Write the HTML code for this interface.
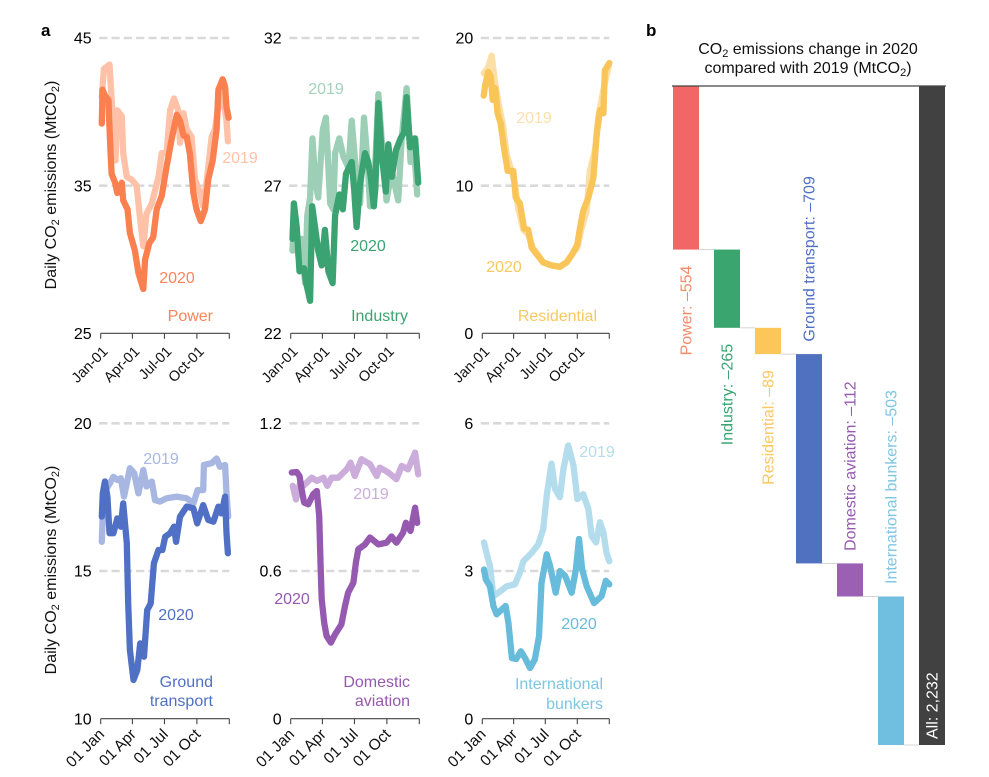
<!DOCTYPE html>
<html lang="en">
<head>
<meta charset="utf-8">
<title>CO2 emissions change in 2020 compared with 2019</title>
<style>
html,body{margin:0;padding:0;background:#fff}
svg{display:block;font-family:"Liberation Sans",sans-serif}
text{font-size:16px}
.sub{font-size:11px}
</style>
</head>
<body>
<svg id="figure" xmlns="http://www.w3.org/2000/svg" width="989" height="777" viewBox="0 0 989 777">
  <rect width="989" height="777" fill="#fff"/>
  <text x="41" y="36" font-weight="bold" style="font-size:17px" fill="#000">a</text>
  <text x="646" y="36" font-weight="bold" style="font-size:17px" fill="#000">b</text>

  <text transform="translate(56 185) rotate(-90)" text-anchor="middle" fill="#111">Daily CO<tspan class="sub" dy="3">2</tspan><tspan dy="-3"> emissions (MtCO</tspan><tspan class="sub" dy="3">2</tspan><tspan dy="-3">)</tspan></text>
  <text transform="translate(56 570) rotate(-90)" text-anchor="middle" fill="#111">Daily CO<tspan class="sub" dy="3">2</tspan><tspan dy="-3"> emissions (MtCO</tspan><tspan class="sub" dy="3">2</tspan><tspan dy="-3">)</tspan></text>

  <text x="808" y="54" text-anchor="middle" fill="#111">CO<tspan class="sub" dy="3">2</tspan><tspan dy="-3"> emissions change in 2020</tspan></text>
  <text x="808" y="73" text-anchor="middle" fill="#111">compared with 2019 (MtCO<tspan class="sub" dy="3">2</tspan><tspan dy="-3">)</tspan></text>

  <g id="panels"></g>
  <g id="waterfall"></g>

  <text x="240" y="163" text-anchor="middle" fill="#FFC1A8">2019</text>
  <text x="177" y="283" text-anchor="middle" fill="#FB8458">2020</text>
  <text x="213" y="321" text-anchor="end" fill="#FB8458">Power</text>

  <text x="326" y="94" text-anchor="middle" fill="#A2D2BA">2019</text>
  <text x="368" y="251" text-anchor="middle" fill="#3BA372">2020</text>
  <text x="408" y="321" text-anchor="end" fill="#3BA372">Industry</text>

  <text x="534" y="123" text-anchor="middle" fill="#FBE0AC">2019</text>
  <text x="504" y="272" text-anchor="middle" fill="#F9C85F">2020</text>
  <text x="597" y="321" text-anchor="end" fill="#F9C85F">Residential</text>

  <text x="161" y="464" text-anchor="middle" fill="#A9B8E2">2019</text>
  <text x="176" y="620" text-anchor="middle" fill="#5070C4">2020</text>
  <text x="213" y="687" text-anchor="end" fill="#5070C4">Ground</text>
  <text x="213" y="706" text-anchor="end" fill="#5070C4">transport</text>

  <text x="371" y="499" text-anchor="middle" fill="#CBACDB">2019</text>
  <text x="292" y="604" text-anchor="middle" fill="#9659B0">2020</text>
  <text x="410" y="687" text-anchor="end" fill="#9659B0">Domestic</text>
  <text x="410" y="706" text-anchor="end" fill="#9659B0">aviation</text>

  <text x="597" y="457" text-anchor="middle" fill="#B5DDEC">2019</text>
  <text x="579" y="629" text-anchor="middle" fill="#67BBDB">2020</text>
  <text x="603" y="689" text-anchor="end" fill="#7FC6E2">International</text>
  <text x="603" y="709" text-anchor="end" fill="#7FC6E2">bunkers</text>
</svg>

<script>
// ---- Tick data ----
const xTickDays = [0, 90, 181, 273, 365];
const xTickLabelsTop = ['Jan-01', 'Apr-01', 'Jul-01', 'Oct-01', ''];
const xTickLabelsBottom = ['01 Jan', '01 Apr', '01 Jul', '01 Oct', ''];
const powerTicks = [25, 35, 45];
const industryTicks = [22, 27, 32];
const residentialTicks = [0, 10, 20];
const groundTicks = [10, 15, 20];
const domesticTicks = [0, 0.6, 1.2];
const bunkersTicks = [0, 3, 6];

// ---- Power ----
const power2019Days = [3,9,25,29,36,42,47,60,64,74,88,102,112,121,130,145,164,173,187,197,208,220,225,235,244,258,268,282,291,301,315,324,343,357,361];
const power2019Values = [41.0,42.9,43.2,41.7,38.8,36.7,40.1,39.7,37.2,35.6,35.4,35.0,32.7,30.9,33.1,33.8,35.6,37.2,37.2,40.1,40.9,40.1,37.9,39.9,38.8,38.3,35.4,34.5,33.6,35.4,38.3,38.8,41.7,39.4,38.0];
const power2020Days = [3,5,12,22,24,28,31,41,47,60,64,76,83,97,107,121,126,138,149,159,173,187,201,216,225,235,244,253,263,272,284,296,305,318,329,334,346,353,357,363];
const power2020Values = [39.2,41.5,41.1,40.8,39.4,37.2,35.8,35.2,34.5,35.2,34.0,33.4,31.8,30.6,29.1,28.0,30.0,31.1,31.5,33.4,34.3,36.3,38.1,39.8,39.4,38.4,38.3,37.2,34.5,33.4,32.6,33.4,35.4,36.7,38.8,41.5,42.2,41.7,40.3,39.6];

// ---- Industry ----
const industry2019Days = [5,8,22,31,41,47,55,62,69,78,91,100,112,121,126,138,149,164,173,185,197,208,220,225,239,249,258,272,287,305,315,329,340,348,359];
const industry2019Values = [24.8,25.5,24.6,25.2,23.7,26.0,26.6,28.6,27.2,26.6,28.9,29.3,26.4,26.2,28.1,28.6,28.0,27.6,29.2,27.5,26.4,29.3,27.5,26.3,27.5,30.1,28.6,26.5,27.5,26.5,28.6,30.3,27.8,28.6,26.7];
const industry2020Days = [5,9,17,25,38,44,55,61,69,78,88,97,107,119,126,138,148,157,173,180,187,197,211,220,227,236,240,249,258,270,277,287,299,312,322,329,339,353,362];
const industry2020Values = [25.2,26.4,25.6,24.1,24.2,23.7,23.1,26.3,25.6,24.8,24.3,25.5,24.1,23.7,26.0,26.7,26.2,27.4,27.8,26.9,25.6,27.1,28.1,27.8,27.3,26.3,26.9,29.8,28.1,26.8,28.4,27.3,28.2,28.6,28.8,30.0,28.3,28.6,27.1];

// ---- Residential ----
const residential2019Days = [4,17,27,36,49,60,70,84,94,103,118,132,145,161,175,199,223,242,257,273,285,300,309,324,333,348,357,365];
const residential2019Values = [17.6,18.0,18.8,17.1,15.3,14.0,12.1,11.0,10.1,8.5,7.0,6.7,5.8,5.3,4.8,4.6,4.5,4.8,5.3,5.8,7.1,8.3,11.0,12.4,14.6,16.5,17.4,18.3];
const residential2020Days = [4,9,17,24,30,37,44,53,62,73,89,96,108,120,132,142,158,175,199,223,242,257,273,279,290,305,319,329,338,348,352,365];
const residential2020Values = [16.1,16.9,17.7,17.4,15.8,16.6,14.9,14.2,12.6,11.0,11.0,9.2,8.8,7.1,7.0,5.8,5.3,4.8,4.6,4.5,4.8,5.3,6.0,6.9,8.3,9.2,10.5,13.5,15.1,14.9,17.8,18.3];

// ---- Ground transport ----
const ground2019Days = [3,8,26,36,47,57,66,83,95,107,121,130,145,154,168,187,216,244,263,275,291,293,315,329,338,353,357,362];
const ground2019Values = [15.99,17.63,17.97,18.19,18.08,18.14,17.52,18.48,18.31,17.63,18.42,17.86,18.03,17.4,17.35,17.46,17.52,17.46,17.29,17.74,17.74,18.59,18.65,18.81,18.53,18.59,17.63,16.84];
const ground2020Days = [3,6,12,19,25,36,47,57,64,74,78,83,93,104,112,123,132,142,151,164,175,183,197,208,214,225,244,263,274,291,305,320,334,343,353,357,361];
const ground2020Values = [16.84,17.63,18.03,17.52,16.28,16.28,16.78,16.5,17.29,15.94,13.9,12.33,11.31,11.65,12.55,12.1,13.68,13.9,15.26,15.71,15.71,16.16,16.28,16.5,15.99,16.84,17.18,17.12,16.61,17.23,16.73,16.67,17.18,16.95,17.52,16.28,15.6];

// ---- Domestic aviation ----
const domestic2019Days = [6,15,27,36,60,74,93,104,116,135,159,170,182,201,225,244,253,277,300,315,333,353,362];
const domestic2019Values = [0.946,0.891,0.959,0.946,0.979,0.966,0.979,0.946,0.979,0.979,1.013,1.04,0.986,1.054,1.034,0.986,1.02,1.0,0.973,1.027,1.013,1.081,0.993];
const domestic2020Days = [3,17,25,31,38,50,64,74,81,85,88,95,102,114,126,144,154,163,178,185,192,211,225,249,272,286,300,319,327,340,353,359];
const domestic2020Values = [1.0,1.002,0.986,0.932,0.878,0.871,0.912,0.925,0.824,0.62,0.485,0.39,0.336,0.309,0.343,0.383,0.458,0.512,0.553,0.634,0.688,0.708,0.736,0.708,0.715,0.74,0.715,0.756,0.796,0.763,0.857,0.796];

// ---- International bunkers ----
const bunkers2019Days = [5,14,22,32,46,70,94,108,118,142,161,175,185,199,209,223,233,247,262,273,290,305,314,327,338,348,357,365];
const bunkers2019Values = [3.58,3.31,3.1,2.49,2.56,2.69,2.73,2.97,3.2,3.37,3.54,3.85,4.53,5.18,4.67,4.5,5.07,5.55,5.14,4.46,4.56,4.26,3.71,3.58,3.99,3.78,3.37,3.2];
const bunkers2020Days = [5,10,22,32,41,56,67,75,85,97,111,123,137,151,163,170,185,195,211,223,238,257,269,278,287,300,321,343,355,365];
const bunkers2020Values = [3.03,2.83,2.69,2.29,2.12,2.22,2.29,1.95,1.23,1.21,1.37,1.23,1.03,1.2,1.67,2.76,3.34,3.1,2.56,3.0,2.9,2.56,3.03,3.65,3.03,2.69,2.35,2.49,2.8,2.73];

// ---- Waterfall ----
const sectorNames = ['Power', 'Industry', 'Residential', 'Ground transport', 'Domestic aviation', 'International bunkers'];
const sectorChanges = [554, 265, 89, 709, 112, 503];
const totalChange = 2232;

const SVGNS = 'http://www.w3.org/2000/svg';
const dayMax = 365;

function make(parent, tag, attrs) {
  const el = document.createElementNS(SVGNS, tag);
  for (const k in attrs) el.setAttribute(k, attrs[k]);
  parent.appendChild(el);
  return el;
}

const topLabelStyle = {font:14.5, dx:8, dy:19};
const bottomLabelStyle = {font:15.5, dx:4.5, dy:16.5};

const panels = [
  {key:'power', left:100.7, right:229.3, top:38, bottom:333.3, ticks:powerTicks, xLabels:xTickLabelsTop, xStyle:topLabelStyle, c19:'#FFC1A8', c20:'#FB8050', d19:power2019Days, v19:power2019Values, d20:power2020Days, v20:power2020Values},
  {key:'industry', left:290.7, right:419.3, top:38, bottom:333.3, ticks:industryTicks, xLabels:xTickLabelsTop, xStyle:topLabelStyle, c19:'#9CCFB5', c20:'#3BA372', d19:industry2019Days, v19:industry2019Values, d20:industry2020Days, v20:industry2020Values},
  {key:'residential', left:482.3, right:609.3, top:38, bottom:333.3, ticks:residentialTicks, xLabels:xTickLabelsTop, xStyle:topLabelStyle, c19:'#FBDFA6', c20:'#F9C558', d19:residential2019Days, v19:residential2019Values, d20:residential2020Days, v20:residential2020Values},
  {key:'ground', left:100.7, right:229.3, top:423.3, bottom:718.7, ticks:groundTicks, xLabels:xTickLabelsBottom, xStyle:bottomLabelStyle, c19:'#A7B7E1', c20:'#4F70C4', d19:ground2019Days, v19:ground2019Values, d20:ground2020Days, v20:ground2020Values},
  {key:'domestic', left:290.7, right:419.3, top:423.3, bottom:718.7, ticks:domesticTicks, xLabels:xTickLabelsBottom, xStyle:bottomLabelStyle, c19:'#CBACDB', c20:'#9659B0', d19:domestic2019Days, v19:domestic2019Values, d20:domestic2020Days, v20:domestic2020Values},
  {key:'bunkers', left:482.3, right:609.3, top:423.3, bottom:718.7, ticks:bunkersTicks, xLabels:xTickLabelsBottom, xStyle:bottomLabelStyle, c19:'#B3DCEC', c20:'#67BBDB', d19:bunkers2019Days, v19:bunkers2019Values, d20:bunkers2020Days, v20:bunkers2020Values}
];

function xScale(p, day) {
  return p.left + (day / dayMax) * (p.right - p.left);
}
function yScale(p, value) {
  const lo = p.ticks[0];
  const hi = p.ticks[p.ticks.length - 1];
  return p.bottom - ((value - lo) / (hi - lo)) * (p.bottom - p.top);
}
function linePath(p, days, values) {
  return days.map(function (d, i) {
    return (i ? 'L' : 'M') + xScale(p, d).toFixed(1) + ' ' + yScale(p, values[i]).toFixed(1);
  }).join(' ');
}

const panelsRoot = document.getElementById('panels');
panels.forEach(function (p) {
  const g = make(panelsRoot, 'g', {});
  
  

  // dashed gridlines and y tick labels
  p.ticks.forEach(function (t, i) {
    const y = yScale(p, t);
    if (i > 0) {
      const grid = make(g, 'line', {x1:p.left - 1.5, x2:p.right, y1:y, y2:y, stroke:'#D9D9D9', 'stroke-width':2.6, 'stroke-dasharray':'8.2 4.1'});
      
      
    }
    const label = make(g, 'text', {x:p.left - 9, y:y + 5.7, 'text-anchor':'end', fill:'#000'});
    label.textContent = String(t);
    
    
  });

  // x axis
  const axis = make(g, 'line', {x1:p.left, x2:p.right, y1:p.bottom, y2:p.bottom, stroke:'#444', 'stroke-width':1.2});
  
  
  xTickDays.forEach(function (d, i) {
    const x = xScale(p, d);
    const tick = make(g, 'line', {x1:x, x2:x, y1:p.bottom, y2:p.bottom + 5.5, stroke:'#444', 'stroke-width':1.1});
    
    
    if (p.xLabels[i]) {
      const tx = x + p.xStyle.dx;
      const ty = p.bottom + p.xStyle.dy;
      const lab = make(g, 'text', {x:tx, y:ty, 'text-anchor':'end', fill:'#111', style:'font-size:' + p.xStyle.font + 'px', transform:'rotate(-45 ' + tx + ' ' + ty + ')'});
      lab.textContent = p.xLabels[i];
      
      
    }
  });

  // series lines
  const l19 = make(g, 'path', {d:linePath(p, p.d19, p.v19), fill:'none', stroke:p.c19, 'stroke-width':6.3, 'stroke-linejoin':'round', 'stroke-linecap':'round'});
  
  
  const l20 = make(g, 'path', {d:linePath(p, p.d20, p.v20), fill:'none', stroke:p.c20, 'stroke-width':6.3, 'stroke-linejoin':'round', 'stroke-linecap':'round'});
  
  
});

// ---- Waterfall chart ----
const wfTop = 86;
const wfBottom = 745;
const wfFirstX = 673;
const wfStep = 41;
const wfBarWidth = 26;
const barColors = ['#F26765', '#3AA56F', '#FCC659', '#5070C0', '#9B5FB3', '#71BFE0'];
const labelColors = ['#F58A6A', '#3BA372', '#F9C85F', '#5070C4', '#9659B0', '#7FC6E2'];

function wfY(v) {
  return wfTop + (v / totalChange) * (wfBottom - wfTop);
}
function wfX(i) {
  return wfFirstX + i * wfStep;
}

const wfRoot = document.getElementById('waterfall');
let running = 0;
sectorChanges.forEach(function (change, i) {
  const y0 = wfY(running);
  const y1 = wfY(running + change);
  const bar = make(wfRoot, 'rect', {x:wfX(i), y:y0, width:wfBarWidth, height:y1 - y0, fill:barColors[i]});
  
  

  const conn = make(wfRoot, 'line', {x1:wfX(i) + wfBarWidth, x2:wfX(i + 1), y1:y1, y2:y1, stroke:'#D5D5D5', 'stroke-width':1});
  
  

  const below = i < 3;
  const tx = wfX(i) + wfBarWidth / 2 + 5.5;
  const ty = below ? y1 + 16 : y0 - 12.5;
  const label = make(wfRoot, 'text', {x:tx, y:ty, fill:labelColors[i], 'text-anchor':below ? 'end' : 'start', transform:'rotate(-90 ' + tx + ' ' + ty + ')'});
  label.textContent = sectorNames[i] + ': \u2013' + change;
  
  

  running += change;
});

const totalBar = make(wfRoot, 'rect', {x:wfX(6), y:wfY(0), width:wfBarWidth, height:wfY(totalChange) - wfY(0), fill:'#414141'});



const totalLabel = make(wfRoot, 'text', {x:wfX(6) + 18.5, y:wfBottom - 6, fill:'#fff', transform:'rotate(-90 ' + (wfX(6) + 18.5) + ' ' + (wfBottom - 6) + ')'});
totalLabel.textContent = 'All: 2,232';



const topAxis = make(wfRoot, 'line', {x1:672, x2:946, y1:wfTop, y2:wfTop, stroke:'#444', 'stroke-width':1.3});


</script>
</body>
</html>
